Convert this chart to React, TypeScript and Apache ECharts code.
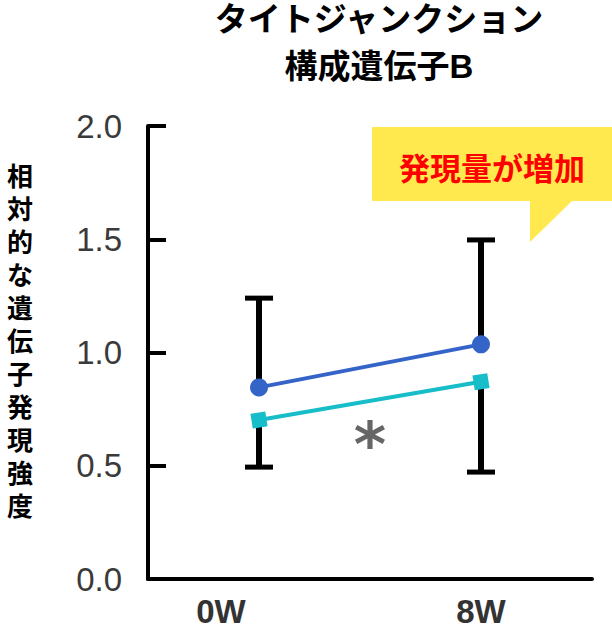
import React, { useEffect, useRef } from "react";
import * as echarts from "echarts";

const categories = ["0W", "8W"];
const yTicks = [0, 0.5, 1.0, 1.5, 2.0];
const blueValues = [0.846, 1.036];
const cyanValues = [0.702, 0.871];
const blueUpper = [1.24, 1.497];
const cyanLower = [0.494, 0.472];
const yAxisTitle = "相対的な遺伝子発現強度";
const chartTitle = ["タイトジャンクション", "構成遺伝子B"];
const calloutText = "発現量が増加";
const starText = "*";

const JP = "'Noto Sans CJK JP', 'Noto Sans', sans-serif";
const JP_TIGHT = "'Liberation Sans', 'Noto Sans CJK JP', sans-serif";

export default function App() {
  const ref = useRef<HTMLDivElement>(null);
  useEffect(() => {
    if (!ref.current) return;
    const chart = echarts.init(ref.current, null, { renderer: "svg" });

    const errSeries = (
      name: string,
      data: number[][],
      capAtHigh: boolean
    ): any => ({
      type: "custom",
      name,
      z: 1,
      data,
      renderItem: (params: any, api: any) => {
        const x = api.value(0);
        const lo = api.value(1);
        const hi = api.value(2);
        const p1 = api.coord([x, lo]);
        const p2 = api.coord([x, hi]);
        const cap = capAtHigh ? p2 : p1;
        const w = 14;
        return {
          type: "group",
          children: [
            {
              type: "line",
              shape: { x1: p1[0], y1: p1[1], x2: p2[0], y2: p2[1] },
              style: { stroke: "#000", lineWidth: 6 },
            },
            {
              type: "line",
              shape: { x1: cap[0] - w, y1: cap[1], x2: cap[0] + w, y2: cap[1] },
              style: { stroke: "#000", lineWidth: 5 },
            },
          ],
        };
      },
    });

    const xLabelStyle = {
      fontSize: 33,
      lineHeight: 28,
      fontWeight: "bold",
      color: "#333",
      fontFamily: JP_TIGHT,
    };

    const option: any = {
      animation: false,
      grid: { left: 148, right: 20, top: 126, bottom: 49 },
      xAxis: {
        type: "category",
        data: categories,
        boundaryGap: true,
        axisLine: { lineStyle: { color: "#000", width: 4 } },
        axisTick: {
          inside: true,
          length: 19,
          interval: 0,
          lineStyle: { color: "#000", width: 4 },
        },
        axisLabel: {
          margin: 18,
          ...xLabelStyle,
          formatter: (v: string) => (v === "0W" ? `{a|${v}}` : `{b|${v}}`),
          rich: {
            a: { padding: [0, 76, 0, 0], ...xLabelStyle },
            b: { ...xLabelStyle },
          },
        },
      },
      yAxis: {
        type: "value",
        min: yTicks[0],
        max: yTicks[yTicks.length - 1],
        interval: 0.5,
        splitLine: { show: false },
        axisLine: { show: true, lineStyle: { color: "#000", width: 4 } },
        axisTick: {
          show: true,
          inside: true,
          length: 18,
          lineStyle: { color: "#000", width: 4 },
        },
        axisLabel: {
          margin: 26,
          fontSize: 33,
          fontWeight: "normal",
          color: "#3a3a3a",
          fontFamily: "'Liberation Sans', sans-serif",
          formatter: (v: number) => v.toFixed(1),
        },
      },
      series: [
        errSeries(
          "blueErr",
          categories.map((_, i) => [i, blueValues[i], blueUpper[i]]),
          true
        ),
        errSeries(
          "cyanErr",
          categories.map((_, i) => [i, cyanLower[i], cyanValues[i]]),
          false
        ),
        {
          type: "line",
          name: "blue",
          z: 3,
          data: blueValues,
          symbol: "circle",
          symbolSize: 18,
          lineStyle: { color: "#3564C8", width: 4 },
          itemStyle: { color: "#3564C8" },
        },
        {
          type: "line",
          name: "cyan",
          z: 3,
          data: cyanValues,
          symbol: "rect",
          symbolSize: 15,
          symbolRotate: 9,
          lineStyle: { color: "#17BDC9", width: 4 },
          itemStyle: { color: "#17BDC9" },
        },
      ],
      graphic: [
        ...chartTitle.map((t, i) => ({
          type: "text",
          x: 379,
          y: 19 + i * 47,
          style: {
            text: t,
            fill: "#000",
            fontSize: 33,
            fontWeight: "bold",
            fontFamily: JP_TIGHT,
            lineHeight: 30,
            align: "center",
            textAlign: "center",
            verticalAlign: "middle",
            textVerticalAlign: "middle",
          },
        })),
        {
          type: "text",
          x: 20,
          y: 342,
          style: {
            text: yAxisTitle.split("").join("\n"),
            fill: "#000",
            fontSize: 26,
            fontWeight: "bold",
            fontFamily: JP_TIGHT,
            lineHeight: 33,
            align: "center",
            textAlign: "center",
            verticalAlign: "middle",
            textVerticalAlign: "middle",
          },
        },
        {
          type: "polygon",
          z: 10,
          shape: {
            points: [
              [372, 127],
              [612, 127],
              [612, 201],
              [572, 201],
              [530, 242],
              [530, 201],
              [372, 201],
            ],
          },
          style: { fill: "#FFE94F" },
        },
        {
          type: "text",
          z: 11,
          x: 492,
          y: 166,
          style: {
            text: calloutText,
            fill: "#FF0000",
            fontSize: 31,
            fontWeight: "bold",
            fontFamily: JP,
            align: "center",
            textAlign: "center",
            verticalAlign: "middle",
            textVerticalAlign: "middle",
          },
        },
        {
          type: "text",
          z: 11,
          x: 370,
          y: 444,
          style: {
            text: starText,
            fill: "#666",
            fontSize: 62,
            fontWeight: "bold",
            fontFamily: "'DejaVu Sans', sans-serif",
            align: "center",
            textAlign: "center",
            verticalAlign: "middle",
            textVerticalAlign: "middle",
          },
        },
      ],
    };
    chart.setOption(option);
    return () => chart.dispose();
  }, []);
  return (
    <div
      ref={ref}
      style={{ position: "absolute", left: 0, top: 0, width: 612, height: 628 }}
    />
  );
}
